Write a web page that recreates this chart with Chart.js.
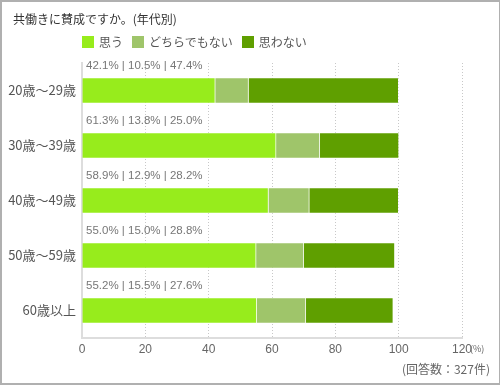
<!DOCTYPE html>
<html lang="ja">
<head>
<meta charset="utf-8">
<script src="https://cdn.jsdelivr.net/npm/chart.js@4/dist/chart.umd.min.js"></script>
<style>
  html, body { margin: 0; padding: 0; background: #fff; }
  #frame { position: relative; width: 500px; height: 385px; box-sizing: border-box;
           border: 2px solid #b0b0b0; border-right-width: 1px; overflow: hidden;
           font-family: "Noto Sans CJK JP", "Noto Sans", sans-serif; }
  #title { position: absolute; left: 11px; top: 8px; font-size: 12px; color: #333; }
  #legend { position: absolute; left: 80px; top: 31px; font-size: 12px; color: #555; display: flex; }
  #legend .item { display: flex; align-items: center; margin-right: 9px; }
  #legend .sw { width: 12px; height: 12px; margin-right: 5px; }
  #note { position: absolute; right: 9px; top: 358px; font-size: 12px; color: #666; }
  #unit { position: absolute; left: 468px; top: 340px; font-size: 9px; color: #666; }
  canvas { position: absolute; left: -2px; top: -2px; }
</style>
</head>
<body>
<div id="frame">
  <canvas id="c" width="500" height="385"></canvas>
  <div id="title">共働きに賛成ですか。(年代別)</div>
  <div id="legend"></div>
  <div id="unit">(%)</div>
  <div id="note">(回答数：327件)</div>
</div>
<script>
const categories = ["20歳～29歳", "30歳～39歳", "40歳～49歳", "50歳～59歳", "60歳以上"];
const seriesNames = ["思う", "どちらでもない", "思わない"];
const agree = [42.1, 61.3, 58.9, 55.0, 55.2];
const neutral = [10.5, 13.8, 12.9, 15.0, 15.5];
const disagree = [47.4, 25.0, 28.2, 28.8, 27.6];
const xTicks = [0, 20, 40, 60, 80, 100, 120];
const colors = ["#97ec1c", "#9fc56a", "#5f9f00"];

const seriesData = [agree, neutral, disagree];

// HTML legend
const legendEl = document.getElementById('legend');
seriesNames.forEach((n, i) => {
  const it = document.createElement('div');
  it.className = 'item';
  it.innerHTML = '<span class="sw" style="background:' + colors[i] + '"></span><span>' + n + '</span>';
  legendEl.appendChild(it);
});

const labelPlugin = {
  id: 'pctLabels',
  afterDatasetsDraw(chart) {
    const ctx = chart.ctx;
    const meta = chart.getDatasetMeta(0);
    const x0 = chart.scales.x.getPixelForValue(0);
    ctx.save();
    ctx.font = '11.5px "Liberation Sans", "Noto Sans", sans-serif';
    ctx.fillStyle = '#777';
    ctx.textAlign = 'left';
    ctx.textBaseline = 'middle';
    meta.data.forEach((bar, i) => {
      const top = bar.y - bar.height / 2;
      const txt = agree[i].toFixed(1) + '% | ' + neutral[i].toFixed(1) + '% | ' + disagree[i].toFixed(1) + '%';
      ctx.fillText(txt, x0 + 4, top - 12);
    });
    ctx.restore();
  }
};

new Chart(document.getElementById('c'), {
  type: 'bar',
  data: {
    labels: categories,
    datasets: seriesNames.map((n, i) => ({
      label: n,
      data: seriesData[i],
      backgroundColor: colors[i],
      borderColor: 'rgba(255,255,255,0.35)',
      borderWidth: 1,
      borderSkipped: 'start',
      barThickness: 26
    }))
  },
  options: {
    indexAxis: 'y',
    responsive: false,
    animation: false,
    devicePixelRatio: 1,
    layout: { padding: { left: 0, right: 38, top: 63, bottom: 0 } },
    plugins: { legend: { display: false }, title: { display: false }, tooltip: { enabled: false } },
    scales: {
      x: {
        stacked: true,
        min: 0, max: 120,
        afterBuildTicks(scale) { scale.ticks = xTicks.map(v => ({ value: v })); },
        afterFit(scale) { scale.height = 47; },
        grid: { color: '#c8c8c8', drawTicks: false, lineWidth: 1 },
        border: { color: '#dddddd', width: 2, dash: [1, 2] },
        ticks: { color: '#666', padding: 4, font: { family: '"Liberation Sans", sans-serif', size: 12 } }
      },
      y: {
        stacked: true,
        afterFit(scale) { scale.width = 82; },
        grid: { display: false, drawTicks: false },
        border: { color: '#dddddd', width: 2 },
        ticks: { color: '#555', padding: 6, font: { family: '"Noto Sans CJK JP", sans-serif', size: 13 } }
      }
    }
  },
  plugins: [labelPlugin]
});
</script>
</body>
</html>
